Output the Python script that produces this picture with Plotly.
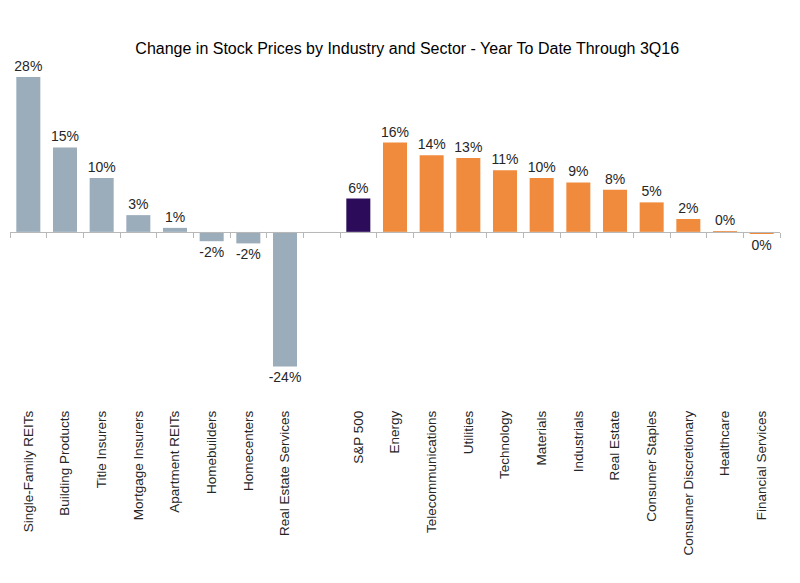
import plotly.graph_objects as go

categories = ["Single-Family REITs", "Building Products", "Title Insurers", "Mortgage Insurers",
              "Apartment REITs", "Homebuilders", "Homecenters", "Real Estate Services",
              " ",
              "S&P 500", "Energy", "Telecommunications", "Utilities", "Technology", "Materials",
              "Industrials", "Real Estate", "Consumer Staples", "Consumer Discretionary",
              "Healthcare", "Financial Services"]
values = [28.0, 15.3, 9.8, 3.1, 0.8, -1.6, -2.0, -24.2,
          None,
          6.1, 16.2, 13.9, 13.4, 11.2, 9.8, 9.0, 7.7, 5.4, 2.4, 0.2, -0.3]
groups = ["housing"] * 8 + ["gap"] + ["sp"] + ["sector"] * 11

group_colors = {"housing": "#9BACBA", "gap": "rgba(0,0,0,0)", "sp": "#2C0C5A", "sector": "#F08B3E"}
colors = [group_colors[g] for g in groups]
labels = ["" if v is None else f"{round(v)}%" for v in values]

title = "Change in Stock Prices by Industry and Sector - Year To Date Through 3Q16"

ymin, ymax = -27, 30
fig = go.Figure()
fig.add_trace(go.Bar(
    x=categories, y=values, marker=dict(color=colors, line=dict(width=0)),
    text=labels, textposition="outside", cliponaxis=False, constraintext="none",
    textfont=dict(family="Liberation Sans, Arial", size=14, color="#262626"),
    hoverinfo="skip",
))
# invisible trace for the zero-line axis with boundary ticks
fig.add_trace(go.Bar(x=categories, y=[0] * len(categories), xaxis="x2",
                     marker=dict(color="rgba(0,0,0,0)"), showlegend=False, hoverinfo="skip"))

fig.update_layout(
    width=800, height=583,
    margin=dict(l=10, r=20, t=66, b=201),
    paper_bgcolor="white", plot_bgcolor="white",
    showlegend=False, bargap=0.345,
    uniformtext=dict(minsize=14, mode="show"),
    title=dict(text=title, x=0.509, xref="container", y=1 - 48 / 583, yref="container",
               xanchor="center", yanchor="middle",
               font=dict(family="Liberation Sans, Arial", size=16, color="#000000")),
    xaxis=dict(type="category", showline=False, showgrid=False, ticks="", tickangle=-90,
               tickfont=dict(family="Liberation Sans, Arial", size=13.5, color="#262626"),
               ticklabelstandoff=25, fixedrange=True),
    xaxis2=dict(type="category", overlaying="x", matches="x", anchor="free",
                position=(0 - ymin) / (ymax - ymin), side="bottom",
                showline=True, linecolor="#B8B8B8", linewidth=1,
                ticks="outside", tickson="boundaries", ticklen=5, tickcolor="#B8B8B8",
                showticklabels=False, showgrid=False),
    yaxis=dict(range=[ymin, ymax], visible=False, showgrid=False, zeroline=False),
)
fig.write_html("out.html", config={"displayModeBar": False},
               post_script="document.body.style.margin='0';")
